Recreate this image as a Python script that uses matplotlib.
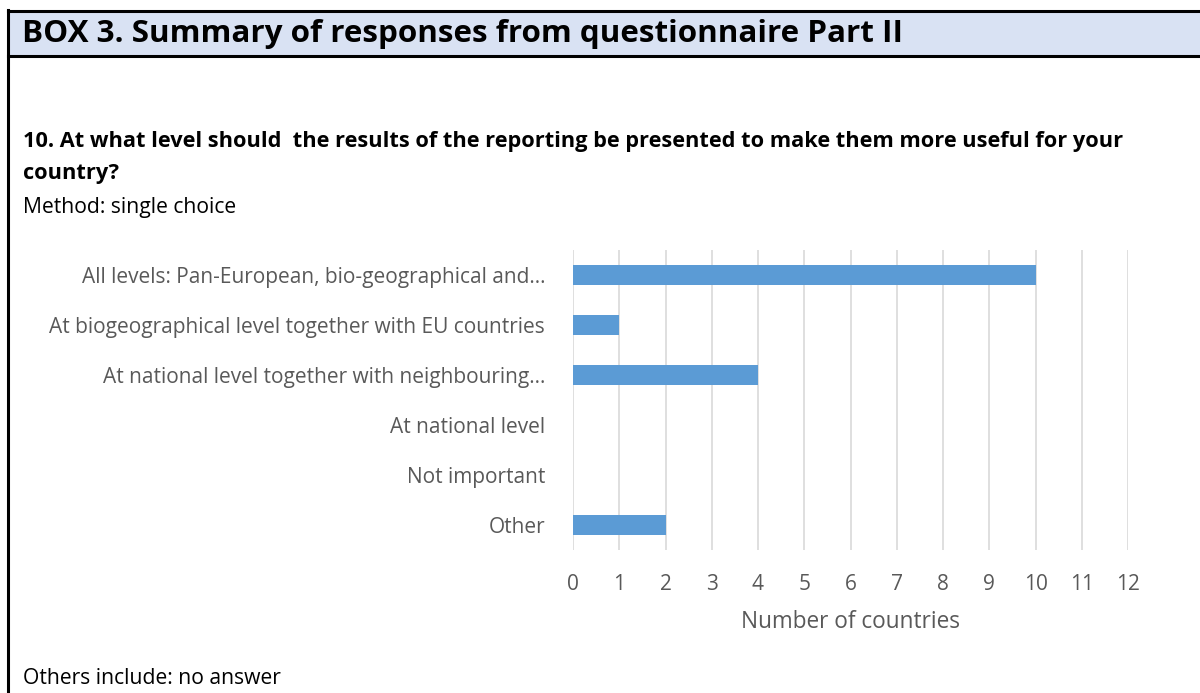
import matplotlib.pyplot as plt
from matplotlib.patches import Rectangle
from matplotlib.lines import Line2D

plt.rcParams['font.family'] = ['Open Sans', 'DejaVu Sans']

categories = [
    'All levels: Pan-European, bio-geographical and...',
    'At biogeographical level together with EU countries',
    'At national level together with neighbouring...',
    'At national level',
    'Not important',
    'Other',
]
counts = [10, 1, 4, 0, 0, 2]
xticks = list(range(0, 13))

fig = plt.figure(figsize=(12, 6.93), dpi=100)
W, H = 1200, 693

def fx(px):
    return px / W

def fy(py):
    return 1 - py / H

# box header band and frame
fig.patches.append(Rectangle((fx(8), fy(56)), fx(1200 - 8), (55 - 11) / H,
                             transform=fig.transFigure, facecolor='#D9E2F3',
                             edgecolor='none', zorder=0))
fig.lines.append(Line2D([fx(8), 1], [fy(11), fy(11)], transform=fig.transFigure,
                        color='black', lw=2.2))
fig.lines.append(Line2D([fx(8), 1], [fy(56), fy(56)], transform=fig.transFigure,
                        color='black', lw=2.2))
fig.lines.append(Line2D([fx(8), fx(8)], [fy(10), 0], transform=fig.transFigure,
                        color='black', lw=2.2))

fig.text(fx(22), fy(34), 'BOX 3. Summary of responses from questionnaire Part II',
         fontsize=22.6, fontweight='bold', va='center', ha='left', color='black')
fig.text(fx(23), fy(141), '10. At what level should  the results of the reporting be presented to make them more useful for your',
         fontsize=15.7, fontweight='bold', va='center', ha='left')
fig.text(fx(23), fy(173), 'country?', fontsize=15.7, fontweight='bold', va='center', ha='left')
fig.text(fx(23), fy(207), 'Method: single choice', fontsize=15.2, va='center', ha='left')
fig.text(fx(23), fy(679), 'Others include: no answer', fontsize=15.2, va='center', ha='left')

ax = fig.add_axes([fx(573), fy(550), fx(1128 - 573), (550 - 250) / H])
ypos = list(range(len(categories)))
ax.barh(ypos, counts, height=0.4, color='#5B9BD5', zorder=3)
ax.set_yticks(ypos)
ax.set_yticklabels(categories)
ax.set_ylim(len(categories) - 0.5, -0.5)
ax.set_xlim(0, 12)
ax.set_xticks(xticks)
ax.grid(True, axis='x', color='#D9D9D9', lw=1.2, zorder=0)
for s in ax.spines.values():
    s.set_visible(False)
ax.tick_params(axis='both', length=0, labelsize=15, colors='#595959')
ax.tick_params(axis='y', pad=20)
ax.tick_params(axis='x', pad=17)
ax.set_xlabel('Number of countries', fontsize=16.3, color='#595959', labelpad=11)

fig.savefig('out.png', dpi=100)
